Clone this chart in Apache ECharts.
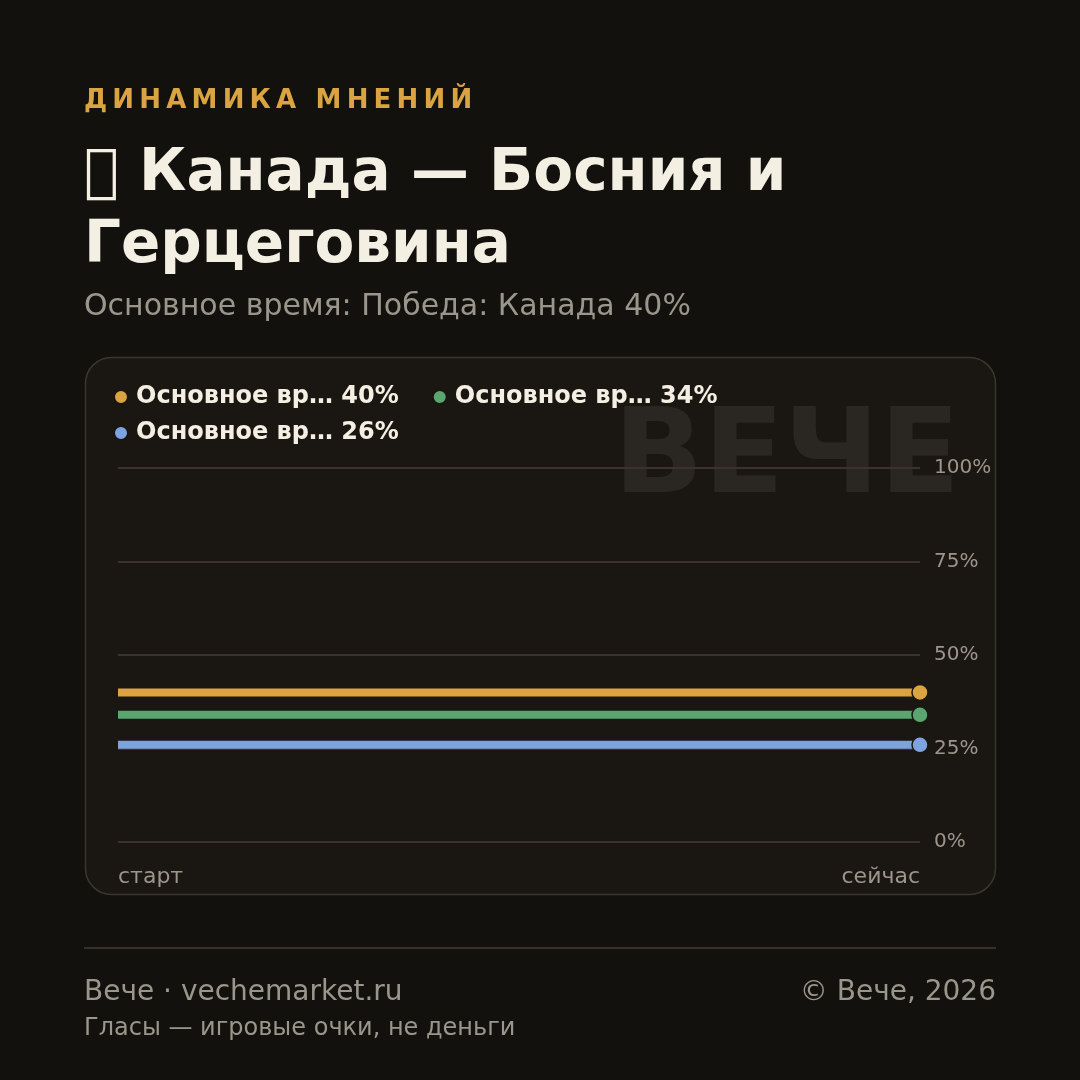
<!DOCTYPE html>
<html>
<head>
<meta charset="utf-8">
<script src="https://cdn.jsdelivr.net/npm/echarts@6/dist/echarts.min.js"></script>
<style>
  html, body { margin: 0; padding: 0; background: #12110d; }
  #chart { width: 1080px; height: 1080px; }
</style>
</head>
<body>
<div id="chart"></div>
<script>
// данные
const categories = ['старт', 'сейчас']
const seriesNames = ['Основное вр… 40%', 'Основное вр… 34%', 'Основное вр… 26%']
const seriesValues = [
  [40, 40],
  [34, 34],
  [26, 26]
]
const seriesColors = ['#d9a441', '#5aa66e', '#7fa3e0']
const yTicks = [0, 25, 50, 75, 100]

const FONT = '"DejaVu Sans", sans-serif'
const cream = '#f3efe3'
const muted = '#9b968b'

const chart = echarts.init(document.getElementById('chart'))

const series = seriesNames.map((name, i) => ({
  name,
  type: 'line',
  data: seriesValues[i],
  symbol: 'circle',
  symbolSize: (v, p) => (p.dataIndex === seriesValues[i].length - 1 ? 16 : 0),
  showAllSymbol: true,
  lineStyle: { color: seriesColors[i], width: 8, cap: 'butt' },
  itemStyle: { color: seriesColors[i], borderColor: '#1a1712', borderWidth: 1.5 },
  emphasis: { disabled: true },
  animation: false,
  z: 3 + (seriesNames.length - i)
}))

const legendBase = {
  left: 113,
  padding: 0,
  icon: 'circle',
  itemWidth: 14,
  itemHeight: 14,
  itemGap: 33,
  selectedMode: false,
  textStyle: { color: cream, fontSize: 24, fontWeight: 'bold', fontFamily: FONT, padding: [0, 0, 0, 3] }
}

const option = {
  backgroundColor: '#12110d',
  animation: false,
  textStyle: { fontFamily: FONT },
  legend: [
    Object.assign({}, legendBase, { top: 385, data: seriesNames.slice(0, 2) }),
    Object.assign({}, legendBase, { top: 421, data: seriesNames.slice(2) })
  ],
  grid: { left: 118, right: 160, top: 468, bottom: 238 },
  xAxis: {
    type: 'category',
    data: categories,
    boundaryGap: false,
    axisLine: { show: false },
    axisTick: { show: false },
    axisLabel: {
      color: muted,
      fontSize: 22,
      fontFamily: FONT,
      margin: 24,
      alignMinLabel: 'left',
      alignMaxLabel: 'right'
    },
    splitLine: { show: false }
  },
  yAxis: {
    type: 'value',
    position: 'right',
    min: yTicks[0],
    max: yTicks[yTicks.length - 1],
    interval: 25,
    axisLine: { show: false },
    axisTick: { show: false },
    axisLabel: { color: muted, fontSize: 20, fontFamily: FONT, margin: 14, formatter: '{value}%' },
    splitLine: { lineStyle: { color: '#38342d', width: 2 } }
  },
  graphic: [
    {
      type: 'rect', z: -10, silent: true,
      shape: { x: 85.5, y: 357.5, width: 910, height: 537, r: 26 },
      style: { fill: '#1a1712', stroke: '#3a362e', lineWidth: 1.5 }
    },
    {
      type: 'text', z: -9, silent: true,
      style: { x: 960, y: 461, text: 'ВЕЧЕ', fill: '#2a2722', font: 'bold 118px ' + FONT, align: 'right', verticalAlign: 'middle' }
    },
    {
      type: 'text', silent: true,
      style: { x: 84, y: 101, text: 'ДИНАМИКА МНЕНИЙ'.split('').join('\u2009'), fill: '#d9a441', font: 'bold 26px ' + FONT, verticalAlign: 'middle' }
    },
    {
      type: 'text', silent: true,
      style: { x: 84, y: 175, text: '\uE000 Канада — Босния и', fill: cream, font: 'bold 58px ' + FONT, verticalAlign: 'middle' }
    },
    {
      type: 'text', silent: true,
      style: { x: 84, y: 247, text: 'Герцеговина', fill: cream, font: 'bold 58px ' + FONT, verticalAlign: 'middle' }
    },
    {
      type: 'text', silent: true,
      style: { x: 84, y: 307, text: 'Основное время: Победа: Канада 40%', fill: muted, font: '30px ' + FONT, verticalAlign: 'middle' }
    },
    {
      type: 'rect', silent: true,
      shape: { x: 84, y: 947, width: 912, height: 2 },
      style: { fill: '#34302a' }
    },
    {
      type: 'text', silent: true,
      style: { x: 84, y: 993, text: 'Вече · vechemarket.ru', fill: muted, font: '28px ' + FONT, verticalAlign: 'middle' }
    },
    {
      type: 'text', silent: true,
      style: { x: 996, y: 993, text: '© Вече, 2026', fill: muted, font: '28px ' + FONT, align: 'right', verticalAlign: 'middle' }
    },
    {
      type: 'text', silent: true,
      style: { x: 84, y: 1029, text: 'Гласы — игровые очки, не деньги', fill: muted, font: '24px ' + FONT, verticalAlign: 'middle' }
    }
  ],
  series
}

chart.setOption(option)
window.addEventListener('resize', () => chart.resize())
</script>
</body>
</html>
